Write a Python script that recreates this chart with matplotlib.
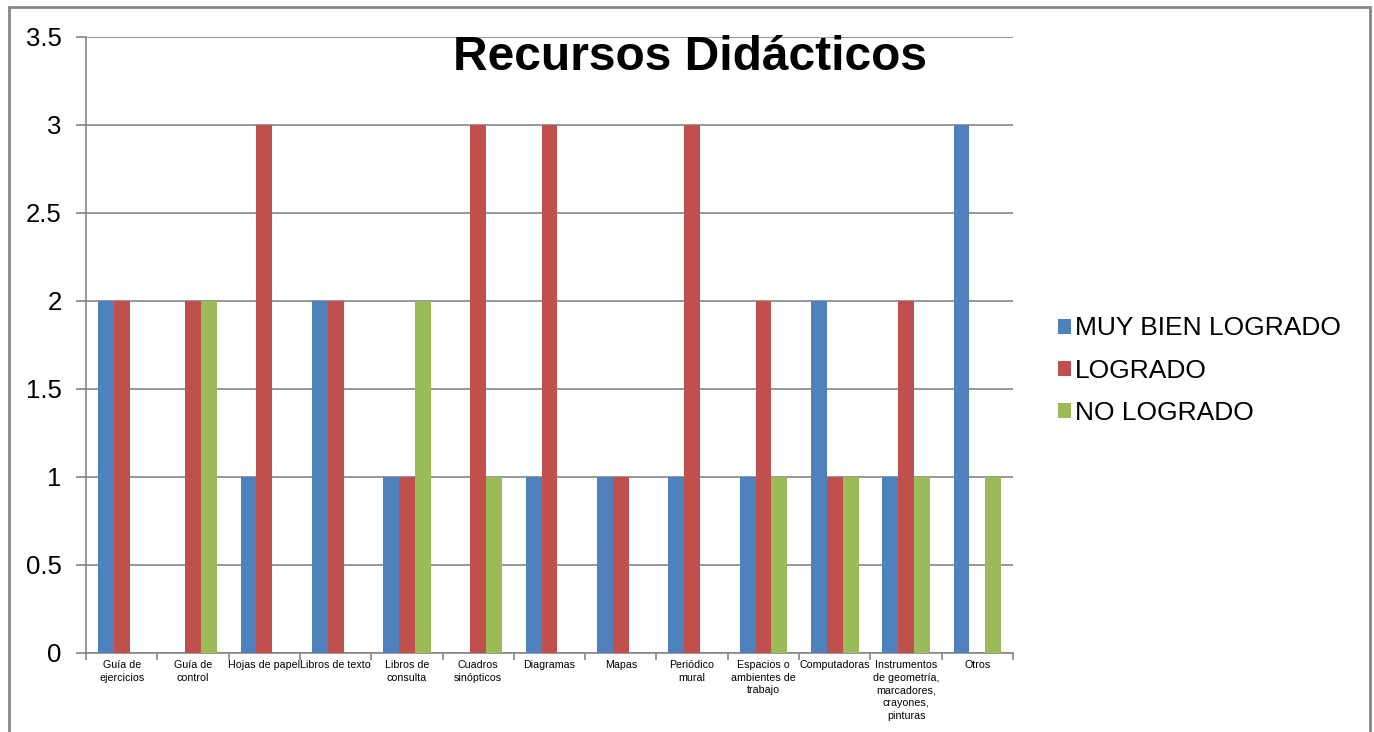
import matplotlib

matplotlib.use("Agg")
import matplotlib.pyplot as plt
import numpy as np
from matplotlib.patches import Rectangle

plt.rcParams["font.family"] = ["Liberation Sans", "DejaVu Sans"]

categories = ["Guía de\nejercicios", "Guía de\ncontrol", "Hojas de papel", "Libros de texto",
              "Libros de\nconsulta", "Cuadros\nsinópticos", "Diagramas", "Mapas",
              "Periódico\nmural", "Espacios o\nambientes de\ntrabajo", "Computadoras",
              "Instrumentos\nde geometría,\nmarcadores,\ncrayones,\npinturas", "Otros"]
muy_bien = [2, 0, 1, 2, 1, 0, 1, 1, 1, 1, 2, 1, 3]
logrado = [2, 2, 3, 2, 1, 3, 3, 1, 3, 2, 1, 2, 0]
no_logrado = [0, 2, 0, 0, 2, 1, 0, 0, 0, 1, 1, 1, 1]
series = [("MUY BIEN LOGRADO", muy_bien, "#4F81BD"),
          ("LOGRADO", logrado, "#C0504D"),
          ("NO LOGRADO", no_logrado, "#9BBB59")]

W, H = 1374, 732
fig = plt.figure(figsize=(W / 100, H / 100), dpi=100)
ax = fig.add_axes([86 / W, (H - 653) / H, 927 / W, 616 / H])

grey = "#868686"
x = np.arange(len(categories))
w = 1 / 4.5
for i, (name, vals, col) in enumerate(series):
    ax.bar(x + (i - 1) * w, vals, width=w, color=col, label=name, zorder=3)

ax.set_xlim(-0.5, len(categories) - 0.5)
ax.set_ylim(0, 3.5)
ax.set_yticks(np.arange(0, 3.51, 0.5))
ax.set_yticklabels(["0", "0.5", "1", "1.5", "2", "2.5", "3", "3.5"])
ax.yaxis.grid(True, color=grey, lw=1.2, zorder=0)
ax.set_xticks(np.arange(-0.5, len(categories), 1))
ax.set_xticklabels([])
ax.set_xticks(x, categories, minor=True)
for t in ax.get_xticklabels(minor=True):
    t.set_linespacing(1.33)
ax.tick_params(axis="x", which="minor", length=0, labelsize=7.7, pad=5)
ax.tick_params(axis="x", which="major", length=5, color=grey, width=1.2)
ax.tick_params(axis="y", length=7, color=grey, width=1.2, labelsize=18.5, pad=10.5)
for s in ("top", "right"):
    ax.spines[s].set_visible(False)
for s in ("left", "bottom"):
    ax.spines[s].set_color(grey)
    ax.spines[s].set_linewidth(1.2)

ax.legend(loc="center left", bbox_to_anchor=(1.023, 0.458), frameon=False, fontsize=19,
          handlelength=0.5, handleheight=0.5, handletextpad=0.15, labelspacing=0.7)

fig.text(690 / W, 1 - 58 / H, "Recursos Didácticos", fontsize=34.5, fontweight="bold",
         ha="center", va="center")

fig.patches.append(Rectangle((9 / W, -0.05), (1370 - 9) / W, 1.05 - 7 / H,
                             transform=fig.transFigure, fill=False, ec=grey, lw=2))

fig.savefig("out.png", dpi=100)
